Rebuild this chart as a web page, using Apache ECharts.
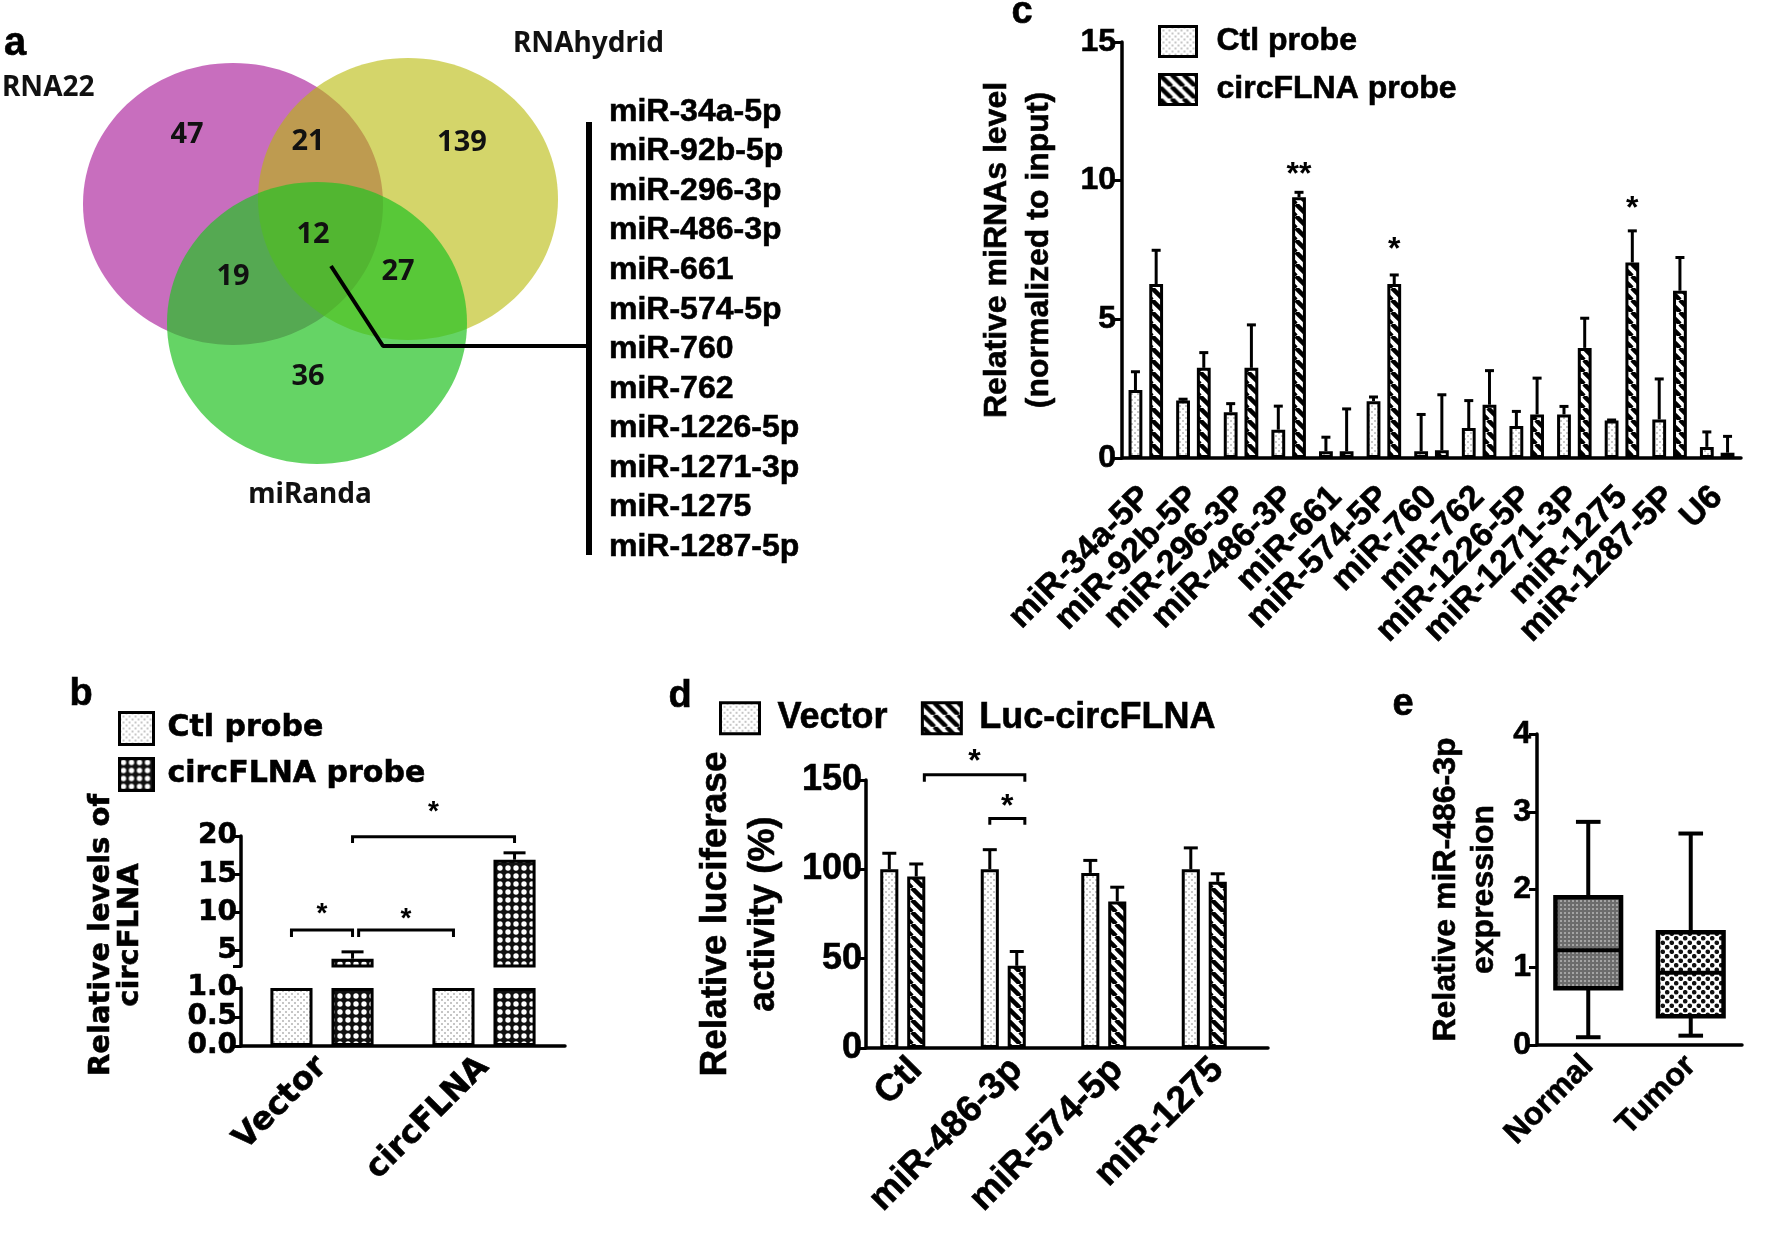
<!DOCTYPE html>
<html><head><meta charset="utf-8">
<script src="https://cdn.jsdelivr.net/npm/echarts@6/dist/echarts.min.js"></script>
<style>html,body{margin:0;padding:0;background:#fff}#main{width:1772px;height:1237px}</style>
</head><body><div id="main"></div>
<script>
// ================= DATA =================
// Panel a: Venn diagram (layout units of the venn panel)
const vennSets = ['RNA22', 'RNAhydrid', 'miRanda'];
const vennCircles = [[233, 204, 150, 141], [408, 199, 150, 141], [317, 323, 150, 141]];
const vennSetLabelPos = [[2, 88], [513, 44], [310, 495]];
const vennSetLabelAlign = ['left', 'left', 'center'];
const vennCounts = [47, 21, 139, 12, 19, 27, 36];
const vennCountPos = [[187, 135], [308, 142], [462, 143], [313, 235], [233, 277], [398, 272], [308, 377]];
const vennConnector = [[331, 266], [383, 346], [589, 346]];
const vennBracket = [[589, 122], [589, 555]];
const commonMiRNAs = ['miR-34a-5p', 'miR-92b-5p', 'miR-296-3p', 'miR-486-3p', 'miR-661', 'miR-574-5p',
  'miR-760', 'miR-762', 'miR-1226-5p', 'miR-1271-3p', 'miR-1275', 'miR-1287-5p'];

// Panel c
const cCats = ['miR-34a-5P', 'miR-92b-5P', 'miR-296-3P', 'miR-486-3P', 'miR-661', 'miR-574-5P', 'miR-760',
  'miR-762', 'miR-1226-5P', 'miR-1271-3P', 'miR-1275', 'miR-1287-5P', 'U6'];
const cCtl = [2.45, 2.07, 1.65, 1.02, 0.24, 2.05, 0.24, 1.08, 1.15, 1.57, 1.35, 1.39, 0.40];
const cCtlSD = [0.66, 0.05, 0.31, 0.85, 0.51, 0.15, 1.33, 0.99, 0.53, 0.29, 0.02, 1.46, 0.54];
const cCirc = [6.27, 3.25, 3.25, 9.40, 0.24, 6.27, 0.28, 1.92, 1.57, 3.97, 7.05, 6.03, 0.19];
const cCircSD = [1.22, 0.55, 1.55, 0.18, 1.53, 0.33, 2.00, 1.23, 1.31, 1.07, 1.14, 1.20, 0.59];
const cStarCat = [3, 5, 10];
const cStarText = ['**', '*', '*'];
const cStarY = [10.45, 7.75, 9.25];

// Panel b
const bCats = ['Vector', 'circFLNA'];
const bCtl = [1.0, 1.0];
const bCirc = [3.95, 16.9];
const bCircSD = [0.9, 0.9];
const bUpperTicks = [5, 10, 15, 20];
// brackets: [fromCat, fromBar, toCat, toBar, y, drop, starY]
const bBrackets = [[0, 0, 0, 1, 7.7, 0.9, 10.6], [0, 1.1, 1, 0, 7.7, 0.9, 10.0], [0, 1, 1, 1, 19.9, 0.8, 24.0]];

// Panel d
const dCats = ['Ctl', 'miR-486-3p', 'miR-574-5p', 'miR-1275'];
const dVector = [100, 100, 98, 100];
const dVectorSD = [9, 11, 7, 12];
const dLuc = [96, 46, 82, 93];
const dLucSD = [7, 8, 8, 4.5];
const dBrackets = [[0, 1.3, 1, 1.3, 153, 4, 164], [1, 0, 1, 1.3, 128.4, 3.5, 139]];

// Panel e
const eCats = ['Normal', 'Tumor'];
const eMin = [0.10, 0.12];
const eQ1 = [0.73, 0.37];
const eMedian = [1.22, 0.93];
const eQ3 = [1.90, 1.45];
const eMax = [2.87, 2.72];

// ================= STYLE HELPERS =================
const F = "'Liberation Sans', Arial, sans-serif";
const FW = "'DejaVu Sans', sans-serif";
const FV = "'Noto Sans', 'Open Sans', sans-serif";
function tile(w, h, draw) {
  const c = document.createElement('canvas'); c.width = w; c.height = h;
  const g = c.getContext('2d'); draw(g, w, h); return { image: c, repeat: 'repeat' };
}
const patDots = tile(6, 6, g => { g.fillStyle = '#fff'; g.fillRect(0, 0, 6, 6); g.fillStyle = '#c6c6c6'; g.fillRect(0, 0, 2, 2); g.fillRect(3, 3, 2, 2); });
const patHatch = tile(12, 12, g => {
  g.fillStyle = '#fff'; g.fillRect(0, 0, 12, 12); g.strokeStyle = '#000'; g.lineWidth = 4.5;
  [-12, 0, 12].forEach(k => { g.beginPath(); g.moveTo(k, 0); g.lineTo(k + 12, 12); g.stroke(); });
});
const patChecker = tile(8, 8, g => { g.fillStyle = '#111'; g.fillRect(0, 0, 8, 8); g.fillStyle = '#fff'; g.beginPath(); g.arc(4, 4, 2.7, 0, Math.PI * 2); g.fill(); });
const patGray = tile(4, 4, g => { g.fillStyle = '#6c6c6c'; g.fillRect(0, 0, 4, 4); g.fillStyle = '#a4a4a4'; g.fillRect(0, 0, 2, 2); });
const patPolka = tile(9, 9, g => {
  g.fillStyle = '#fff'; g.fillRect(0, 0, 9, 9); g.fillStyle = '#111';
  [[2.25, 2.25], [6.75, 6.75]].forEach(p => { g.beginPath(); g.arc(p[0], p[1], 2.3, 0, Math.PI * 2); g.fill(); });
});
const vennColors = ['rgb(200,110,190)', 'rgba(183,185,7,0.6)', 'rgba(36,194,36,0.7)'];
const boxFills = [patGray, patPolka];

const axisLineS = { lineStyle: { color: '#000', width: 3.5 } };
const axisTickS = { length: 8, lineStyle: { color: '#000', width: 3 } };
function lbl(size, fam, extra) {
  return Object.assign({ color: '#000', fontFamily: fam || F, fontWeight: 'bold', fontSize: size, textBorderColor: '#000', textBorderWidth: 0.6 }, extra || {});
}

function barCenter(api, cat, idx, L) {
  const band = api.size([1, 0])[0];
  const s = L.w * (1 + L.gap) * band;
  return api.coord([cat, 0])[0] + (idx - (L.n - 1) / 2) * s;
}
function errSeries(xi, data, L) {
  return {
    type: 'custom', xAxisIndex: xi, yAxisIndex: xi, z: 5, data: data,
    renderItem: (p, api) => {
      const cat = api.value(0), idx = api.value(1), v = api.value(2), top = api.value(3);
      const x = barCenter(api, cat, idx, L);
      const y0 = api.coord([cat, v])[1], y1 = api.coord([cat, top])[1];
      const st = { stroke: '#000', lineWidth: 3 };
      return { type: 'group', children: [
        { type: 'line', shape: { x1: x, y1: y0, x2: x, y2: y1 }, style: st },
        { type: 'line', shape: { x1: x - L.cap / 2, y1: y1, x2: x + L.cap / 2, y2: y1 }, style: st }] };
    }
  };
}
function bracketSeries(xi, data, L, starSize) {
  return {
    type: 'custom', xAxisIndex: xi, yAxisIndex: xi, z: 6, data: data,
    renderItem: (p, api) => {
      const x1 = barCenter(api, api.value(0), api.value(1), L), x2 = barCenter(api, api.value(2), api.value(3), L);
      const yl = api.coord([0, api.value(4)])[1], yd = api.coord([0, api.value(4) - api.value(5)])[1];
      const ys = api.coord([0, api.value(6)])[1];
      return { type: 'group', children: [
        { type: 'polyline', shape: { points: [[x1, yd], [x1, yl], [x2, yl], [x2, yd]] }, style: { stroke: '#000', lineWidth: 3, fill: null } },
        { type: 'text', x: (x1 + x2) / 2, y: ys + 0.23 * starSize, style: { text: '*', fill: '#000', font: 'bold ' + starSize + 'px ' + F, align: 'center', verticalAlign: 'middle' } }] };
    }
  };
}
const Lc = { n: 2, w: 0.29, gap: 0.5, cap: 9 };
const Lb = { n: 2, w: 0.26, gap: 0.45, cap: 22 };
const Ld = { n: 3, w: 0.18, gap: 0.49, cap: 14 };
const barStyle = pat => ({ color: pat, borderColor: '#000', borderWidth: 3 });
const txt = (t, x, y, font, extra) => Object.assign({ type: 'text', x: x, y: y, style: { text: t, font: font, fill: '#000', align: 'center', verticalAlign: 'middle', stroke: '#000', lineWidth: 0.6 } }, extra || {});

// ================= OPTION =================
const option = {
  animation: false,
  backgroundColor: '#fff',
  grid: [
    { left: 0, top: 0, width: 600, height: 570 },            // 0 venn
    { left: 600, top: 92.2, width: 1, height: 474.6 },        // 1 list
    { left: 1122, top: 42, width: 619, height: 416 },         // 2 c
    { left: 241, top: 836, width: 324, height: 130 },         // 3 b upper
    { left: 241, top: 988, width: 324, height: 58 },          // 4 b lower
    { left: 866, top: 780, width: 402, height: 268 },         // 5 d
    { left: 1537, top: 734, width: 205, height: 311 }         // 6 e
  ],
  xAxis: [
    { gridIndex: 0, type: 'value', min: 0, max: 600, show: false },
    { gridIndex: 1, type: 'value', min: 0, max: 1, show: false },
    { gridIndex: 2, type: 'category', data: cCats, axisLine: axisLineS, axisTick: Object.assign({ alignWithLabel: true }, axisTickS, { length: 10 }),
      axisLabel: lbl(34, F, { rotate: 45, interval: 0, margin: 34 }) },
    { gridIndex: 3, type: 'category', data: bCats, show: false },
    { gridIndex: 4, type: 'category', data: bCats, axisLine: axisLineS, axisTick: Object.assign({ alignWithLabel: true }, axisTickS, { length: 10 }),
      axisLabel: lbl(32, FW, { rotate: 45, interval: 0, margin: 16 }) },
    { gridIndex: 5, type: 'category', data: dCats, axisLine: axisLineS, axisTick: Object.assign({ alignWithLabel: true }, axisTickS, { length: 10 }),
      axisLabel: lbl(37, F, { rotate: 45, interval: 0, margin: 16 }) },
    { gridIndex: 6, type: 'category', data: eCats, axisLine: axisLineS, axisTick: Object.assign({ alignWithLabel: true }, axisTickS, { length: 10 }),
      axisLabel: lbl(32, F, { rotate: 45, interval: 0, margin: 16 }) }
  ],
  yAxis: [
    { gridIndex: 0, type: 'value', min: 0, max: 570, inverse: true, show: false },
    { gridIndex: 1, type: 'category', data: commonMiRNAs, inverse: true, position: 'right',
      axisLine: { show: false }, axisTick: { show: false }, axisLabel: lbl(32, F, { margin: 8, align: 'left', interval: 0 }) },
    { gridIndex: 2, type: 'value', min: 0, max: 15, interval: 5, splitLine: { show: false }, axisLine: Object.assign({ show: true }, axisLineS), axisTick: Object.assign({ show: true }, axisTickS),
      axisLabel: lbl(32, F, { margin: 6 }),
      name: 'Relative miRNAs level\n(normalized to input)', nameLocation: 'middle', nameGap: 62, nameRotate: 90,
      nameTextStyle: lbl(32, F, { lineHeight: 42 }) },
    { gridIndex: 3, type: 'value', min: 3, max: 20, splitLine: { show: false }, axisLine: Object.assign({ show: true }, axisLineS),
      axisTick: Object.assign({ show: true, customValues: [3].concat(bUpperTicks) }, axisTickS),
      axisLabel: lbl(28, FW, { margin: 4, customValues: bUpperTicks }) },
    { gridIndex: 4, type: 'value', min: 0, max: 1, interval: 0.5, splitLine: { show: false }, axisLine: Object.assign({ show: true }, axisLineS), axisTick: Object.assign({ show: true }, axisTickS),
      axisLabel: lbl(28, FW, { margin: 4, formatter: v => v.toFixed(1) }) },
    { gridIndex: 5, type: 'value', min: 0, max: 150, interval: 50, splitLine: { show: false }, axisLine: Object.assign({ show: true }, axisLineS), axisTick: Object.assign({ show: true }, axisTickS),
      axisLabel: lbl(36, F, { margin: 4 }),
      name: 'Relative luciferase\nactivity (%)', nameLocation: 'middle', nameGap: 78, nameRotate: 90,
      nameTextStyle: lbl(37, F, { lineHeight: 48 }) },
    { gridIndex: 6, type: 'value', min: 0, max: 4, interval: 1, splitLine: { show: false }, axisLine: Object.assign({ show: true }, axisLineS), axisTick: Object.assign({ show: true }, axisTickS),
      axisLabel: lbl(32, F, { margin: 6 }),
      name: 'Relative miR-486-3p\nexpression', nameLocation: 'middle', nameGap: 34, nameRotate: 90,
      nameTextStyle: lbl(32, F, { lineHeight: 38 }) }
  ],
  legend: [
    { orient: 'vertical', left: 113, top: 706, itemWidth: 34, itemHeight: 32, itemGap: 11, selectedMode: false,
      data: [{ name: 'Ctl probe', icon: 'rect', itemStyle: barStyle(patDots) }, { name: 'circFLNA probe', icon: 'rect', itemStyle: barStyle(patChecker) }],
      textStyle: lbl(30, FW, { padding: [0, 0, 0, 9] }) },
    { orient: 'vertical', left: 1153, top: 20, itemWidth: 37, itemHeight: 30, itemGap: 15, selectedMode: false,
      data: [{ name: 'Ctl probe', icon: 'rect', itemStyle: barStyle(patDots) }, { name: 'circFLNA probe', icon: 'rect', itemStyle: barStyle(patHatch) }],
      textStyle: lbl(32, F, { padding: [0, 0, 0, 15] }) },
    { orient: 'horizontal', left: 714, top: 695, itemWidth: 39, itemHeight: 31, itemGap: 33, selectedMode: false,
      data: [{ name: 'Vector', icon: 'rect', itemStyle: barStyle(patDots) }, { name: 'Luc-circFLNA', icon: 'rect', itemStyle: barStyle(patHatch) }],
      textStyle: lbl(36, F, { padding: [0, 0, 0, 13] }) }
  ],
  graphic: { elements: [
    txt('a', 15, 44, 'bold 40px ' + F),
    txt('b', 81, 695, 'bold 38px ' + F),
    txt('c', 1022, 13, 'bold 38px ' + F),
    txt('d', 680, 697, 'bold 38px ' + F),
    txt('e', 1403, 705, 'bold 38px ' + F),
    txt('Relative levels of\ncircFLNA', 116, 935, 'bold 29px ' + FW, { rotation: Math.PI / 2 })
  ] },
  series: [
    // ---- a: Venn ----
    { type: 'custom', xAxisIndex: 0, yAxisIndex: 0, z: 1, data: vennCircles,
      renderItem: (p, api) => {
        const c = api.coord([api.value(0), api.value(1)]), s = api.size([api.value(2), api.value(3)]);
        return { type: 'ellipse', shape: { cx: c[0], cy: c[1], rx: s[0], ry: s[1] }, style: { fill: vennColors[p.dataIndex] } };
      } },
    { type: 'line', xAxisIndex: 0, yAxisIndex: 0, z: 3, data: vennConnector, symbol: 'none', silent: true, lineStyle: { color: '#000', width: 4 } },
    { type: 'line', xAxisIndex: 0, yAxisIndex: 0, z: 3, data: vennBracket, symbol: 'none', silent: true, lineStyle: { color: '#000', width: 6 } },
    { type: 'custom', xAxisIndex: 0, yAxisIndex: 0, z: 4, data: vennCountPos,
      renderItem: (p, api) => {
        const c = api.coord([api.value(0), api.value(1)]);
        return { type: 'text', x: c[0], y: c[1], style: { text: String(vennCounts[p.dataIndex]), fill: '#111', font: 'bold 29px ' + FV, align: 'center', verticalAlign: 'middle' } };
      } },
    { type: 'custom', xAxisIndex: 0, yAxisIndex: 0, z: 4, data: vennSetLabelPos,
      renderItem: (p, api) => {
        const c = api.coord([api.value(0), api.value(1)]);
        return { type: 'text', x: c[0], y: c[1], style: { text: vennSets[p.dataIndex], fill: '#111', font: 'bold 28px ' + FV, align: vennSetLabelAlign[p.dataIndex], verticalAlign: 'middle' } };
      } },
    // ---- c ----
    { type: 'bar', name: 'Ctl probe', xAxisIndex: 2, yAxisIndex: 2, data: cCtl, barWidth: '29%', barGap: '50%', itemStyle: barStyle(patDots) },
    { type: 'bar', name: 'circFLNA probe', xAxisIndex: 2, yAxisIndex: 2, data: cCirc, barWidth: '29%', barGap: '50%', itemStyle: barStyle(patHatch) },
    errSeries(2, cCats.map((_, i) => [i, 0, cCtl[i], cCtl[i] + cCtlSD[i]]).concat(cCats.map((_, i) => [i, 1, cCirc[i], cCirc[i] + cCircSD[i]])), Lc),
    { type: 'custom', xAxisIndex: 2, yAxisIndex: 2, z: 6, data: cStarCat.map((c, i) => [c, 1, cStarY[i]]),
      renderItem: (p, api) => {
        const x = barCenter(api, api.value(0), api.value(1), Lc), y = api.coord([0, api.value(2)])[1];
        return { type: 'text', x: x, y: y + 0.23 * 32, style: { text: cStarText[p.dataIndex], fill: '#000', font: 'bold 32px ' + F, align: 'center', verticalAlign: 'middle' } };
      } },
    // ---- b ----
    { type: 'bar', name: 'Ctl probe', xAxisIndex: 3, yAxisIndex: 3, data: bCtl, barWidth: '26%', barGap: '45%', itemStyle: barStyle(patDots) },
    { type: 'bar', name: 'circFLNA probe', xAxisIndex: 3, yAxisIndex: 3, data: bCirc, barWidth: '26%', barGap: '45%', itemStyle: barStyle(patChecker) },
    { type: 'bar', name: 'Ctl probe', xAxisIndex: 4, yAxisIndex: 4, data: bCtl.map(v => Math.min(v, 1)), barWidth: '26%', barGap: '45%', itemStyle: barStyle(patDots) },
    { type: 'bar', name: 'circFLNA probe', xAxisIndex: 4, yAxisIndex: 4, data: bCirc.map(v => Math.min(v, 1)), barWidth: '26%', barGap: '45%', itemStyle: barStyle(patChecker) },
    errSeries(3, bCats.map((_, i) => [i, 1, bCirc[i], bCirc[i] + bCircSD[i]]), Lb),
    bracketSeries(3, bBrackets, Lb, 28),
    // ---- d ----
    { type: 'bar', name: 'Vector', xAxisIndex: 5, yAxisIndex: 5, data: dVector, barWidth: '18%', barGap: '49%', itemStyle: barStyle(patDots) },
    { type: 'bar', name: 'Luc-circFLNA', xAxisIndex: 5, yAxisIndex: 5, data: dLuc, barWidth: '18%', barGap: '49%', itemStyle: barStyle(patHatch) },
    { type: 'bar', name: 'spacer', xAxisIndex: 5, yAxisIndex: 5, data: dCats.map(() => null), barWidth: '18%', barGap: '49%' },
    errSeries(5, dCats.map((_, i) => [i, 0, dVector[i], dVector[i] + dVectorSD[i]]).concat(dCats.map((_, i) => [i, 1, dLuc[i], dLuc[i] + dLucSD[i]])), Ld),
    bracketSeries(5, dBrackets, Ld, 32),
    // ---- e ----
    { type: 'custom', xAxisIndex: 6, yAxisIndex: 6, z: 5, data: eCats.map((_, i) => [i, eMin[i], eQ1[i], eMedian[i], eQ3[i], eMax[i]]),
      renderItem: (p, api) => {
        const cat = api.value(0), band = api.size([1, 0])[0];
        const bw = band * 0.64, cw = band * 0.24, x = api.coord([cat, 0])[0];
        const Y = k => api.coord([cat, api.value(k)])[1];
        const ls = { stroke: '#000', lineWidth: 4 };
        return { type: 'group', children: [
          { type: 'line', shape: { x1: x, y1: Y(4), x2: x, y2: Y(5) }, style: ls },
          { type: 'line', shape: { x1: x - cw / 2, y1: Y(5), x2: x + cw / 2, y2: Y(5) }, style: ls },
          { type: 'line', shape: { x1: x, y1: Y(2), x2: x, y2: Y(1) }, style: ls },
          { type: 'line', shape: { x1: x - cw / 2, y1: Y(1), x2: x + cw / 2, y2: Y(1) }, style: ls },
          { type: 'rect', shape: { x: x - bw / 2, y: Y(4), width: bw, height: Y(2) - Y(4) }, style: { fill: boxFills[p.dataIndex], stroke: '#000', lineWidth: 4.5 } },
          { type: 'line', shape: { x1: x - bw / 2, y1: Y(3), x2: x + bw / 2, y2: Y(3) }, style: ls }] };
      } }
  ]
};
const chart = echarts.init(document.getElementById('main'), null, { renderer: 'canvas', width: 1772, height: 1237 });
chart.setOption(option);
</script></body></html>
